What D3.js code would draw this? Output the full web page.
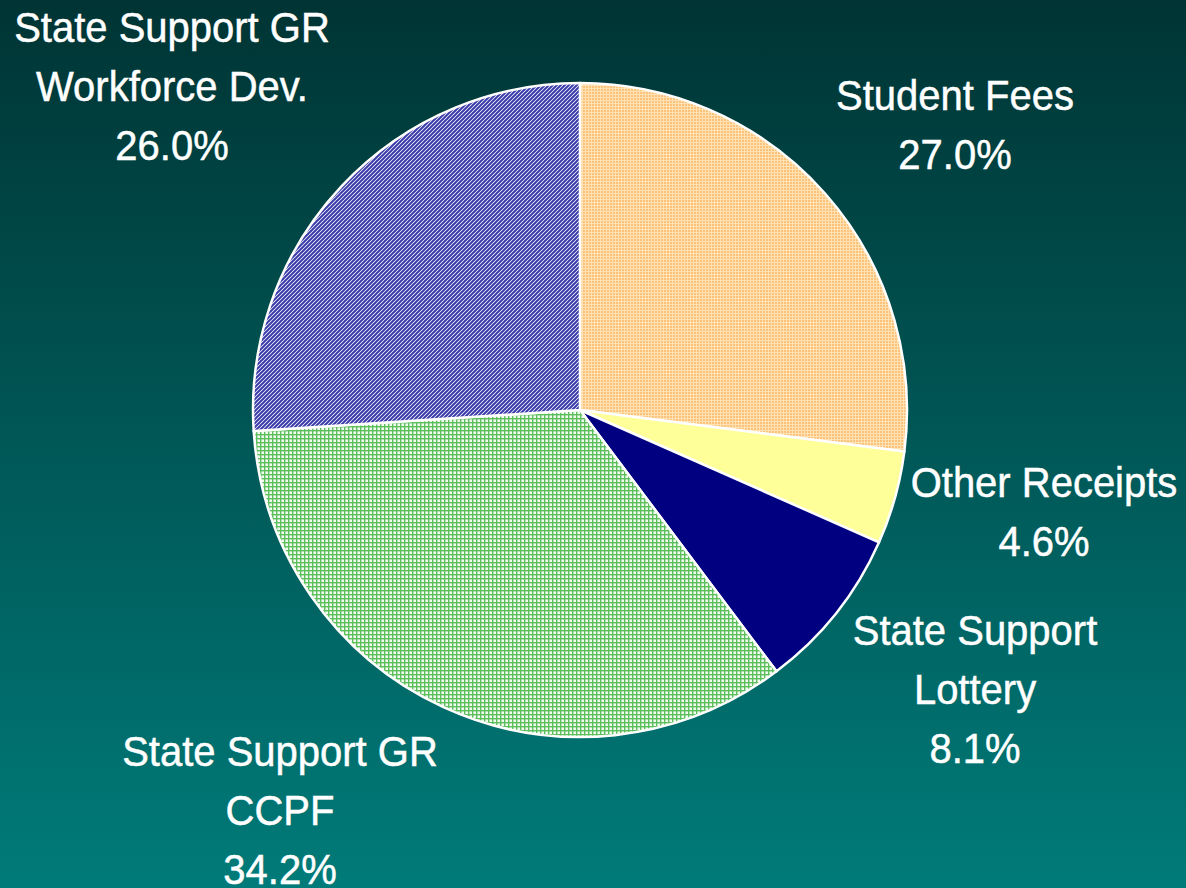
<!DOCTYPE html>
<html><head><meta charset="utf-8">
<script src="https://cdn.jsdelivr.net/npm/d3@7"></script>
<style>html,body{margin:0;padding:0;overflow:hidden;}svg{display:block;}</style>
</head><body>
<svg id="chart" width="1186" height="888"></svg>
<script>
const categories = ["Student Fees", "Other Receipts", "State Support Lottery", "State Support GR CCPF", "State Support GR Workforce Dev."];
const values = [27.0, 4.6, 8.1, 34.2, 26.0];
const labelLines = [
  ["Student Fees", "27.0%"],
  ["Other Receipts", "4.6%"],
  ["State Support", "Lottery", "8.1%"],
  ["State Support GR", "CCPF", "34.2%"],
  ["State Support GR", "Workforce Dev.", "26.0%"]
];

const svg = d3.select("#chart");
const W = 1186, H = 888;
const defs = svg.append("defs");

const bg = defs.append("linearGradient").attr("id","bg").attr("x1",0).attr("y1",0).attr("x2",0).attr("y2",1);
bg.append("stop").attr("offset","0%").attr("stop-color","#003434");
bg.append("stop").attr("offset","100%").attr("stop-color","#007b79");
svg.append("rect").attr("width",W).attr("height",H).attr("fill","url(#bg)");

// patterns
const pOr = defs.append("pattern").attr("id","pOrange").attr("patternUnits","userSpaceOnUse").attr("width",3).attr("height",3);
pOr.append("rect").attr("width",3).attr("height",3).attr("fill","#ffe2b4");
pOr.append("rect").attr("width",2).attr("height",2).attr("fill","#fcc27a");

const pBl = defs.append("pattern").attr("id","pBlue").attr("patternUnits","userSpaceOnUse").attr("width",4).attr("height",4);
pBl.append("rect").attr("width",4).attr("height",4).attr("fill","#ffffff");
pBl.append("path").attr("d","M0,4 L4,0 M-1,1 L1,-1 M3,5 L5,3").attr("stroke","#3a3aaa").attr("stroke-width",2);

const pGr = defs.append("pattern").attr("id","pGreen").attr("patternUnits","userSpaceOnUse").attr("width",4).attr("height",4);
pGr.append("rect").attr("width",4).attr("height",4).attr("fill","#f2fbf0");
pGr.append("rect").attr("x",0).attr("y",0).attr("width",4).attr("height",1.4).attr("fill","#5cbf5c");
pGr.append("rect").attr("x",0).attr("y",0).attr("width",1.4).attr("height",4).attr("fill","#5cbf5c");

const fills = ["url(#pOrange)", "#ffff99", "#000080", "url(#pGreen)", "url(#pBlue)"];

const cx = 580, cy = 410, R = 327;
const pie = d3.pie().sort(null).value(d => d);
const arc = d3.arc().innerRadius(0).outerRadius(R);
const g = svg.append("g").attr("transform",`translate(${cx},${cy})`);
g.selectAll("path").data(pie(values)).join("path")
  .attr("d", arc)
  .attr("fill", (d,i) => fills[i])
  .attr("stroke", "#ffffff")
  .attr("stroke-width", 2.5)
  .attr("stroke-linejoin","round");

// label anchor positions (center x, first baseline y)
const labelPos = [[955,110],[1044,497],[975,645],[280,766],[172,42]];
const lineH = 59;
const sx = 0.93;
const lg = svg.append("g")
  .attr("font-family","'Liberation Sans Narrow','Arial Narrow','Liberation Sans',Arial,sans-serif")
  .attr("font-size",43)
  .attr("fill","#ffffff")
  .attr("stroke","#ffffff")
  .attr("stroke-width",0.5)
  .attr("text-anchor","middle");
labelLines.forEach((lines,i) => {
  const t = lg.append("text")
    .attr("transform",`translate(${labelPos[i][0]},${labelPos[i][1]}) scale(${sx},1)`);
  lines.forEach((ln,j) => {
    t.append("tspan").attr("x",0).attr("y",j*lineH).text(ln);
  });
});
</script>
</body></html>
